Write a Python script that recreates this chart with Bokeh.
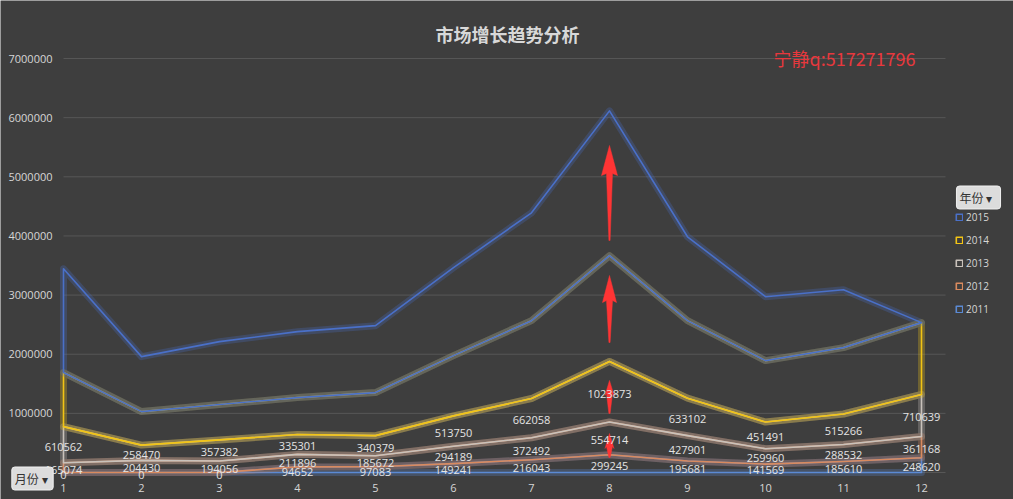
from bokeh.plotting import figure
from bokeh.models import (ColumnDataSource, Label, LabelSet, Legend, LegendItem, Range1d)
from bokeh.embed import file_html
from bokeh.resources import INLINE
from bokeh.core.properties import value

# ---------------- data ----------------
months = [1, 2, 3, 4, 5, 6, 7, 8, 9, 10, 11, 12]
years = ["2011", "2012", "2013", "2014", "2015"]
sales_2011 = [0, 0, 0, 94652, 97083, 149241, 216043, 299245, 195681, 141569, 185610, 248620]
sales_2012 = [165074, 204430, 194056, 211896, 185672, 294189, 372492, 554714, 427901, 259960, 288532, 361168]
sales_2013 = [610562, 258470, 357382, 335301, 340379, 513750, 662058, 1023873, 633102, 451491, 515266, 710639]
sales_2014 = [914000, 567000, 598000, 625000, 728000, 1019000, 1317000, 1788000, 1311000, 1039000, 1122000, 1214000]
sales_2015 = [1756000, 929000, 1064000, 1115000, 1132000, 1487000, 1824000, 2449000, 1418000, 1081000, 980000, 0]
y_ticks = [0, 1000000, 2000000, 3000000, 4000000, 5000000, 6000000, 7000000]
labelled_years = ["2011", "2012", "2013"]

title_text = "市场增长趋势分析"
note_text = "宁静q:517271796"

# ---------------- style ----------------
BG = "#3e3e3e"
GRID = "#575757"
TXT = "#d6d6d6"
LINE_COL = {"2011": "#5b8ad4", "2012": "#d98a5e", "2013": "#c9c2bb",
            "2014": "#f2c415", "2015": "#4a70c8"}
ARROW_COL = "#ff3434"
FONT = "Open Sans"
CJK = "Noto Sans CJK SC"

series = dict(zip(years, [sales_2011, sales_2012, sales_2013, sales_2014, sales_2015]))

# ---------------- figure: the frame fills the whole canvas ----------------
W, H = 1013, 499
PXM = 78.0                 # pixels per month
PXV = 59.14 / 1e6          # pixels per unit of sales
X0 = 1 - 63 / PXM          # month at the left canvas edge
Y0 = -27 / PXV             # value at the bottom canvas edge
p = figure(width=W, height=H, output_backend="svg", toolbar_location=None,
           x_range=Range1d(X0, X0 + W / PXM), y_range=Range1d(Y0, Y0 + H / PXV),
           x_axis_location=None, y_axis_location=None,
           min_border_left=0, min_border_right=0, min_border_top=0,
           min_border_bottom=0,
           background_fill_color=BG, border_fill_color=BG,
           outline_line_color=None)
p.grid.visible = False

X_END = 12 + 24 / PXM      # right end of the plot area (gridlines)

# horizontal gridlines from the y ticks
p.segment(x0=[1] * len(y_ticks), x1=[X_END] * len(y_ticks), y0=y_ticks, y1=y_ticks,
          line_color=GRID, line_width=1)

# axis tick labels through the scales
ytl = ColumnDataSource(dict(x=[1 - 11 / PXM] * len(y_ticks), y=y_ticks,
                            text=[str(t) for t in y_ticks]))
p.add_layout(LabelSet(x="x", y="y", text="text", source=ytl, text_align="right",
                      text_baseline="middle", text_color=TXT,
                      text_font=value(FONT), text_font_size="11px"))
xtl = ColumnDataSource(dict(x=months, y=[-15 / PXV] * len(months),
                            text=[str(m) for m in months]))
p.add_layout(LabelSet(x="x", y="y", text="text", source=xtl, text_align="center",
                      text_baseline="middle", text_color=TXT,
                      text_font=value(FONT), text_font_size="11px"))

# ---------------- stacked outlined areas ----------------
cum_prev = [0] * len(months)
cums = {}
line_renderers = {}
for yr in years:
    vals = series[yr]
    cum = [a + b for a, b in zip(cum_prev, vals)]
    cums[yr] = (list(cum_prev), cum)
    xs = months + months[::-1]
    ys = cum + cum_prev[::-1]
    col = LINE_COL[yr]
    p.patch(xs, ys, fill_alpha=0, line_color=col, line_width=7, line_alpha=0.27,
            line_join="round")
    r = p.patch(xs, ys, fill_alpha=0, line_color=col, line_width=1.6,
                line_join="round")
    line_renderers[yr] = r
    cum_prev = cum

# ---------------- data labels (centred in each band) ----------------
lx, ly, lt = [], [], []
for yr in labelled_years:
    lower, upper = cums[yr]
    for m, lo, up, v in zip(months, lower, upper, series[yr]):
        lx.append(m)
        ly.append((lo + up) / 2)
        lt.append(str(v))
lab_src = ColumnDataSource(dict(x=lx, y=ly, text=lt))
p.add_layout(LabelSet(x="x", y="y", text="text", source=lab_src,
                      text_align="center", text_baseline="middle", y_offset=-2,
                      text_color="#e4e4e4", text_font=value(FONT),
                      text_font_size="11px"))

# ---------------- red arrows at month 8 ----------------
PX_X = 1 / PXM
PX_Y = 1 / PXV
arrow_month = 8
arrows = [  # (base value, tip value, head length px, head width px)
    (3923000, 5529000, 28, 16),
    (2198000, 3331000, 25, 14),
    (998000, 1556000, 13, 9),
    (254000, 659000, 13, 9),
]
axs, ays = [], []
for base, tip, hl, hw in arrows:
    x0 = arrow_month
    hb = tip - hl * PX_Y
    axs.append([x0, x0 + hw / 2 * PX_X, x0 + 3 * PX_X, x0 + 0.6 * PX_X,
                x0 - 0.6 * PX_X, x0 - 3 * PX_X, x0 - hw / 2 * PX_X])
    ays.append([tip, hb - 2 * PX_Y, hb, base, base, hb, hb - 2 * PX_Y])
p.patches(axs, ays, fill_color=ARROW_COL, line_color=ARROW_COL, line_width=0.5)

# ---------------- legend ----------------
items = [LegendItem(label=yr, renderers=[line_renderers[yr]]) for yr in years[::-1]]
legend = Legend(items=items, location=(955, 180), orientation="vertical",
                glyph_width=8, glyph_height=8, label_standoff=3, spacing=3,
                label_height=20, padding=4, margin=0, label_text_font=FONT,
                label_text_font_size="10px", label_text_color=TXT,
                background_fill_alpha=0, border_line_color=None)
p.add_layout(legend, "center")

# ---------------- texts ----------------
p.add_layout(Label(x=1 + 444 / PXM, y=439 / PXV, text=title_text, text_align="center",
                   text_baseline="middle", text_font=CJK, text_font_size="18px",
                   text_font_style="bold", text_color="#d8d8d8"))
p.add_layout(Label(x=1 + 710 / PXM, y=415 / PXV, text=note_text, text_align="left",
                   text_baseline="middle", text_font=CJK, text_font_size="18px",
                   text_color="#e8383d"))

# filter buttons
btn = dict(text_align="center", text_baseline="middle", text_font=CJK,
           text_font_size="12px", text_color="#333333",
           background_fill_color="#dcdcdc", border_line_color="#f0f0f0",
           padding=3, border_radius=3)
p.add_layout(Label(x=1 + 915 / PXM, y=275 / PXV, text="年份   ▾", **btn))
p.add_layout(Label(x=1 - 31 / PXM, y=-6 / PXV, text="月份  ▾", **btn))

open("out.html", "w").write(file_html(p, INLINE))
